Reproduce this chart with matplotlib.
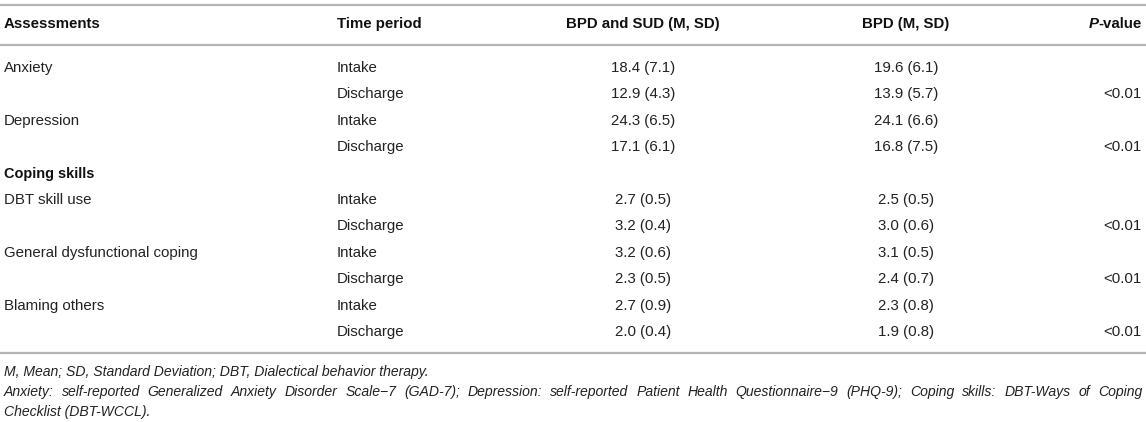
import matplotlib
matplotlib.use('Agg')
import matplotlib.pyplot as plt

plt.rcParams['font.family'] = ['Liberation Sans', 'DejaVu Sans']

# ---------------- data ----------------
headers = ["Assessments", "Time period", "BPD and SUD (M, SD)", "BPD (M, SD)", "P-value"]
assessments = ["Anxiety", "", "Depression", "", "Coping skills", "DBT skill use", "",
               "General dysfunctional coping", "", "Blaming others", ""]
section_rows = [4]  # bold section heading rows
time_period = ["Intake", "Discharge", "Intake", "Discharge", "", "Intake", "Discharge",
               "Intake", "Discharge", "Intake", "Discharge"]
bpd_sud_mean = [18.4, 12.9, 24.3, 17.1, None, 2.7, 3.2, 3.2, 2.3, 2.7, 2.0]
bpd_sud_sd = [7.1, 4.3, 6.5, 6.1, None, 0.5, 0.4, 0.6, 0.5, 0.9, 0.4]
bpd_mean = [19.6, 13.9, 24.1, 16.8, None, 2.5, 3.0, 3.1, 2.4, 2.3, 1.9]
bpd_sd = [6.1, 5.7, 6.6, 7.5, None, 0.5, 0.6, 0.5, 0.7, 0.8, 0.8]
p_values = ["", "<0.01", "", "<0.01", "", "", "<0.01", "", "<0.01", "", "<0.01"]
footnotes = [
    "M, Mean; SD, Standard Deviation; DBT, Dialectical behavior therapy.",
    "Anxiety: self-reported Generalized Anxiety Disorder Scale\u22127 (GAD-7); Depression: self-reported Patient Health Questionnaire\u22129 (PHQ-9); Coping skills: DBT-Ways of Coping",
    "Checklist (DBT-WCCL).",
]
justify = [False, True, False]

# ---------------- layout ----------------
W, H = 1146, 422
fig = plt.figure(figsize=(W / 100, H / 100), dpi=100)
ax = fig.add_axes([0, 0, 1, 1])
ax.set_xlim(0, W)
ax.set_ylim(H, 0)
ax.axis('off')

px = 72 / 100
fs = 15 * px
fs_head = 15 * px
fs_sec = 14.5 * px
fs_note = 14 * px
txt_col = '#222222'
head_col = '#111111'
line_col = '#b5b5b5'

x_assess = 4
x_time = 337
x_c1 = 643
x_c2 = 906
x_p = 1142

y_top_line = 4.5
y_head = 24
y_head_line = 45
y_row0 = 68
dy = 26.4
y_bottom_line = 353
y_notes = [372, 392, 412]

for y in (y_top_line, y_head_line, y_bottom_line):
    ax.plot([0, W], [y, y], color=line_col, lw=1.6, solid_capstyle='butt')

# headers
ax.text(x_assess, y_head, headers[0], fontsize=fs_head, fontweight='bold', color=head_col, va='center', ha='left')
ax.text(x_time, y_head, headers[1], fontsize=fs_head, fontweight='bold', color=head_col, va='center', ha='left')
ax.text(x_c1, y_head, headers[2], fontsize=fs_head, fontweight='bold', color=head_col, va='center', ha='center')
ax.text(x_c2, y_head, headers[3], fontsize=fs_head, fontweight='bold', color=head_col, va='center', ha='center')

renderer = fig.canvas.get_renderer()
t_val = ax.text(x_p, y_head, headers[4][1:], fontsize=fs_head, fontweight='bold', color=head_col, va='center', ha='right')
bb = t_val.get_window_extent(renderer)
ax.text(x_p - bb.width, y_head, headers[4][0], fontsize=fs_head, fontweight='bold', fontstyle='italic',
        color=head_col, va='center', ha='right')

# rows
for i in range(len(time_period)):
    y = y_row0 + i * dy
    if i in section_rows:
        ax.text(x_assess, y, assessments[i], fontsize=fs_sec, fontweight='bold', color=head_col, va='center', ha='left')
        continue
    if assessments[i]:
        ax.text(x_assess, y, assessments[i], fontsize=fs, color=txt_col, va='center', ha='left')
    ax.text(x_time, y, time_period[i], fontsize=fs, color=txt_col, va='center', ha='left')
    ax.text(x_c1, y, f"{bpd_sud_mean[i]:.1f} ({bpd_sud_sd[i]:.1f})", fontsize=fs, color=txt_col, va='center', ha='center')
    ax.text(x_c2, y, f"{bpd_mean[i]:.1f} ({bpd_sd[i]:.1f})", fontsize=fs, color=txt_col, va='center', ha='center')
    if p_values[i]:
        ax.text(x_p, y, p_values[i], fontsize=fs, color=txt_col, va='center', ha='right')

# footnotes
for note, y, just in zip(footnotes, y_notes, justify):
    if not just:
        ax.text(x_assess, y, note, fontsize=fs_note, fontstyle='italic', color=txt_col, va='center', ha='left')
        continue
    words = note.split(' ')
    objs = [ax.text(0, y, w, fontsize=fs_note, fontstyle='italic', color=txt_col, va='center', ha='left') for w in words]
    widths = [o.get_window_extent(renderer).width for o in objs]
    gap = (x_p - x_assess - sum(widths)) / (len(words) - 1)
    x = x_assess
    for o, w in zip(objs, widths):
        o.set_x(x)
        x += w + gap

fig.savefig('out.png', dpi=100)
